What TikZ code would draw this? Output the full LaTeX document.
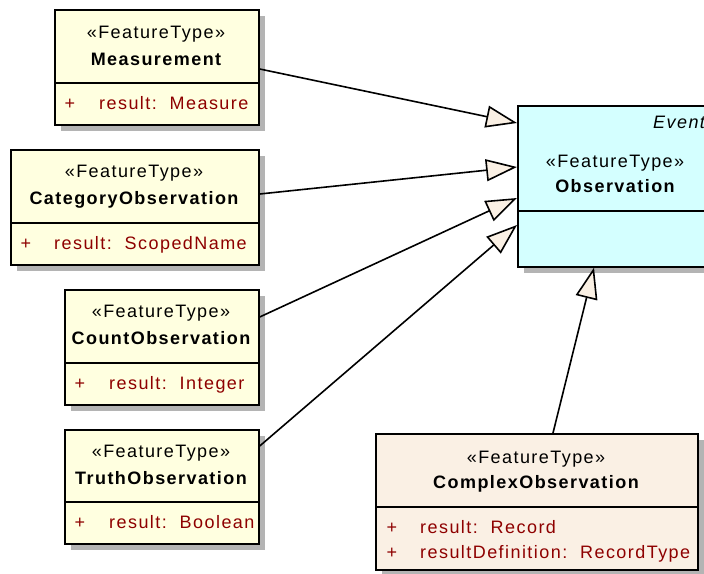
\documentclass[tikz,border=0pt]{standalone}
\usepackage{fontspec}
\setmainfont{Liberation Sans}
\newfontfamily\umlfont[LetterSpace=8]{Liberation Sans}
\usetikzlibrary{arrows.meta,shadows,calc}

\definecolor{ftyellow}{HTML}{FFFFE0}
\definecolor{obscyan}{HTML}{D4FFFF}
\definecolor{cplxbeige}{HTML}{FAF0E4}
\definecolor{attrred}{HTML}{8E0000}
\definecolor{shadowgray}{HTML}{B4B4B4}
\definecolor{arrowfill}{HTML}{FAF0E4}

\tikzset{
  classbox/.style={draw=black, line width=1.7pt, anchor=north west, inner sep=0pt,
    drop shadow={shadow xshift=6pt, shadow yshift=-6pt, fill=shadowgray, opacity=1}},
  divider/.style={draw=black, line width=1.6pt},
  stereo/.style={anchor=base, inner sep=0pt, font=\umlfont\fontsize{18}{21}\selectfont},
  cname/.style={anchor=base, inner sep=0pt, font=\umlfont\bfseries\fontsize{18}{21}\selectfont},
  tagtext/.style={anchor=base west, inner sep=0pt, font=\umlfont\itshape\fontsize{18}{21}\selectfont},
  attrplus/.style={anchor=base, inner sep=0pt, text=attrred, font=\umlfont\fontsize{18}{21}\selectfont},
  attr/.style={anchor=base west, inner sep=0pt, text=attrred, font=\umlfont\fontsize{18}{21}\selectfont},
  gen/.style={-{Triangle[length=31pt, width=22pt, fill=arrowfill]}, line width=1.6pt, draw=black}
}

\begin{document}
\begin{tikzpicture}[x=1pt, y=-1pt]
\useasboundingbox (0,0) rectangle (704,573);
\clip (0,0) rectangle (704,573);
\fill[white] (0,0) rectangle (704,573);

% Measurement
\node[classbox, fill=ftyellow, minimum width=204pt, minimum height=115pt] (meas) at (54,9) {};
\draw[divider] (meas.west |- 0,83) -- (meas.east |- 0,83);
\node[stereo] (meas-st) at (156,38) {«FeatureType»};
\node[cname] (meas-nm) at (156,65) {Measurement};
\node[attrplus] (meas-p) at (70,109) {+};
\node[attr] (meas-a) at (99,109) {result:~~Measure};

% CategoryObservation
\node[classbox, fill=ftyellow, minimum width=248pt, minimum height=115pt] (cat) at (10,149) {};
\draw[divider] (cat.west |- 0,223) -- (cat.east |- 0,223);
\node[stereo] (cat-st) at (134,177) {«FeatureType»};
\node[cname] (cat-nm) at (134,204) {CategoryObservation};
\node[attrplus] (cat-p) at (26,249) {+};
\node[attr] (cat-a) at (54,249) {result:~~ScopedName};

% CountObservation
\node[classbox, fill=ftyellow, minimum width=194pt, minimum height=115pt] (cnt) at (64,289) {};
\draw[divider] (cnt.west |- 0,363) -- (cnt.east |- 0,363);
\node[stereo] (cnt-st) at (161,317) {«FeatureType»};
\node[cname] (cnt-nm) at (161,344) {CountObservation};
\node[attrplus] (cnt-p) at (80,389) {+};
\node[attr] (cnt-a) at (109,389) {result:~~Integer};

% TruthObservation
\node[classbox, fill=ftyellow, minimum width=194pt, minimum height=114pt] (truth) at (64,429) {};
\draw[divider] (truth.west |- 0,502) -- (truth.east |- 0,502);
\node[stereo] (truth-st) at (161,457) {«FeatureType»};
\node[cname] (truth-nm) at (161,484) {TruthObservation};
\node[attrplus] (truth-p) at (80,528) {+};
\node[attr] (truth-a) at (109,528) {result:~~Boolean};

% Observation
\node[classbox, fill=obscyan, minimum width=196pt, minimum height=161pt] (obs) at (517,105) {};
\draw[divider] (obs.west |- 0,211) -- (obs.east |- 0,211);
\node[tagtext] (obs-tag) at (653,128) {Event};
\node[stereo] (obs-st) at (615,167) {«FeatureType»};
\node[cname] (obs-nm) at (615,192) {Observation};

% ComplexObservation
\node[classbox, fill=cplxbeige, minimum width=322pt, minimum height=136pt] (cplx) at (375,433) {};
\draw[divider] (cplx.west |- 0,507) -- (cplx.east |- 0,507);
\node[stereo] (cplx-st) at (536,463) {«FeatureType»};
\node[cname] (cplx-nm) at (536,488) {ComplexObservation};
\node[attrplus] (cplx-p1) at (392,533) {+};
\node[attr] (cplx-a1) at (420,533) {result:~~Record};
\node[attrplus] (cplx-p2) at (392,558) {+};
\node[attr] (cplx-a2) at (420,558) {resultDefinition:~~RecordType};

% Generalisations
\draw[gen] (meas.east |- 0,69) -- (obs.west |- 0,123);
\draw[gen] (cat.east |- 0,194) -- (obs.west |- 0,167);
\draw[gen] (cnt.east |- 0,317) -- (obs.west |- 0,198);
\draw[gen] (truth.east |- 0,446) -- (obs.west |- 0,225);
\draw[gen] (cplx.north -| 553,0) -- (obs.south -| 594,0);
\end{tikzpicture}
\end{document}
